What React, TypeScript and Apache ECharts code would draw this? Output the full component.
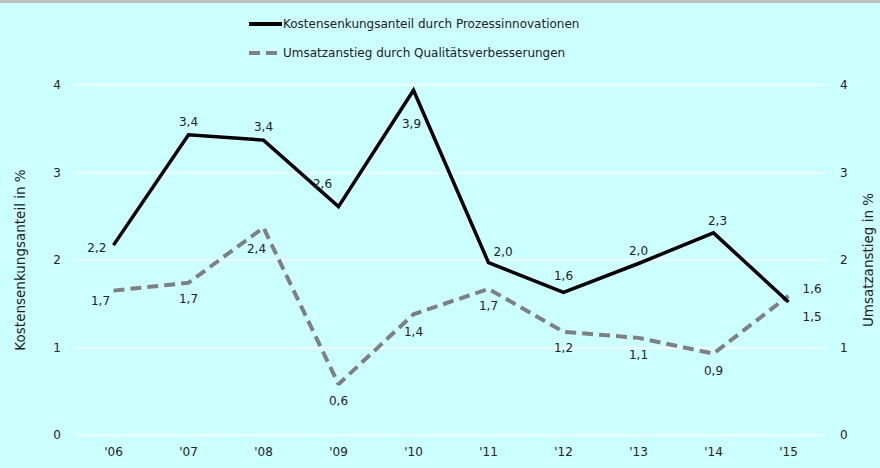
import React, { useEffect, useRef } from "react";
import * as echarts from "echarts";

const categories = ["'06", "'07", "'08", "'09", "'10", "'11", "'12", "'13", "'14", "'15"];
const kostenValues = [2.17, 3.43, 3.37, 2.61, 3.94, 1.97, 1.63, 1.96, 2.31, 1.52];
const kostenLabels = ["2,2", "3,4", "3,4", "2,6", "3,9", "2,0", "1,6", "2,0", "2,3", "1,5"];
const umsatzValues = [1.65, 1.74, 2.37, 0.58, 1.38, 1.67, 1.18, 1.11, 0.93, 1.59];
const umsatzLabels = ["1,7", "1,7", "2,4", "0,6", "1,4", "1,7", "1,2", "1,1", "0,9", "1,6"];
const yTicks = [0, 1, 2, 3, 4];
const seriesNames = [
  "Kostensenkungsanteil durch Prozessinnovationen",
  "Umsatzanstieg durch Qualitätsverbesserungen",
];
const axisNames = ["Kostensenkungsanteil in %", "Umsatzanstieg in %"];

// label placement per point: [position, dx, dy]
const kostenLabelPos: [string, number, number][] = [
  ["left", -2, 3],
  ["top", 0, -2],
  ["top", 0, -2],
  ["top", -16, -12],
  ["bottom", -2, 23],
  ["right", 0, -11],
  ["top", 0, -5],
  ["top", 0, -1],
  ["top", 4, -1],
  ["right", 9, 15],
];
const umsatzLabelPos: [string, number, number][] = [
  ["bottom", -13, -1],
  ["bottom", 0, 5],
  ["bottom", -7, 10],
  ["bottom", 0, 6],
  ["bottom", 0, 7],
  ["bottom", 0, 6],
  ["bottom", 0, 5],
  ["bottom", 0, 6],
  ["bottom", 0, 6],
  ["right", 9, -7],
];

const FONT = "DejaVu Sans";
const TEXT = "#222";

export default function App() {
  const ref = useRef<HTMLDivElement>(null);
  useEffect(() => {
    document.body.style.margin = "0";
    const chart = echarts.init(ref.current!, null, { renderer: "svg" });
    const mk = (vals: number[], labels: string[], pos: [string, number, number][]) =>
      vals.map((v, i) => ({
        value: v,
        label: {
          show: true,
          position: pos[i][0],
          offset: [pos[i][1], pos[i][2]],
          formatter: labels[i],
        },
      }));
    chart.setOption({
      animation: false,
      backgroundColor: "#ccffff",
      textStyle: { fontFamily: FONT },
      graphic: [
        { type: "rect", left: 0, top: 0, shape: { width: 880, height: 3 }, style: { fill: "#c0c0c0" } },
      ],
      legend: {
        orient: "vertical",
        left: 242,
        top: 13,
        itemGap: 17,
        itemWidth: 33,
        itemHeight: 14,
        lineStyle: { width: 4 },
        textStyle: { fontFamily: FONT, fontSize: 12, color: TEXT, padding: [0, 0, 0, -4] },
        data: [
          { name: seriesNames[0], itemStyle: { opacity: 0 } },
          { name: seriesNames[1], itemStyle: { opacity: 0 } },
        ],
      },
      grid: { left: 76, right: 54, top: 85, bottom: 33, containLabel: false, outerBoundsMode: "none" },
      xAxis: {
        type: "category",
        data: categories,
        boundaryGap: true,
        axisLine: { show: false },
        axisTick: { show: false },
        axisLabel: { color: TEXT, fontFamily: FONT, fontSize: 12, margin: 11 },
      },
      yAxis: [
        {
          type: "value",
          min: 0,
          max: 4,
          interval: 1,
          name: axisNames[0],
          nameLocation: "middle",
          nameRotate: 90,
          nameGap: 49,
          nameTextStyle: { color: TEXT, fontFamily: FONT, fontSize: 13.5 },
          axisLine: { show: false },
          axisTick: { show: false },
          axisLabel: {
            color: TEXT,
            fontFamily: FONT,
            fontSize: 12,
            margin: 15,
            formatter: (v: number) => (yTicks.includes(v) ? String(v) : ""),
          },
          splitLine: { show: true, lineStyle: { color: "#ffffff", width: 1.5 } },
        },
        {
          type: "value",
          min: 0,
          max: 4,
          interval: 1,
          position: "right",
          name: axisNames[1],
          nameLocation: "middle",
          nameRotate: 90,
          nameGap: 35,
          nameTextStyle: { color: TEXT, fontFamily: FONT, fontSize: 13.5 },
          axisLine: { show: false },
          axisTick: { show: false },
          axisLabel: { color: TEXT, fontFamily: FONT, fontSize: 12, margin: 14 },
          splitLine: { show: false },
        },
      ],
      series: [
        {
          name: seriesNames[0],
          type: "line",
          yAxisIndex: 0,
          data: mk(kostenValues, kostenLabels, kostenLabelPos),
          symbol: "circle",
          symbolSize: 0.1,
          showSymbol: true,
          lineStyle: { color: "#000000", width: 3.5, join: "miter" },
          itemStyle: { color: "#000000" },
          label: { color: TEXT, fontFamily: FONT, fontSize: 12 },
          z: 3,
        },
        {
          name: seriesNames[1],
          type: "line",
          yAxisIndex: 1,
          data: mk(umsatzValues, umsatzLabels, umsatzLabelPos),
          symbol: "circle",
          symbolSize: 0.1,
          showSymbol: true,
          lineStyle: { color: "#808080", width: 4, type: [11, 6] },
          itemStyle: { color: "#808080" },
          label: { color: TEXT, fontFamily: FONT, fontSize: 12 },
          z: 2,
        },
      ],
    });
    return () => chart.dispose();
  }, []);
  return <div ref={ref} style={{ width: 880, height: 468 }} />;
}
